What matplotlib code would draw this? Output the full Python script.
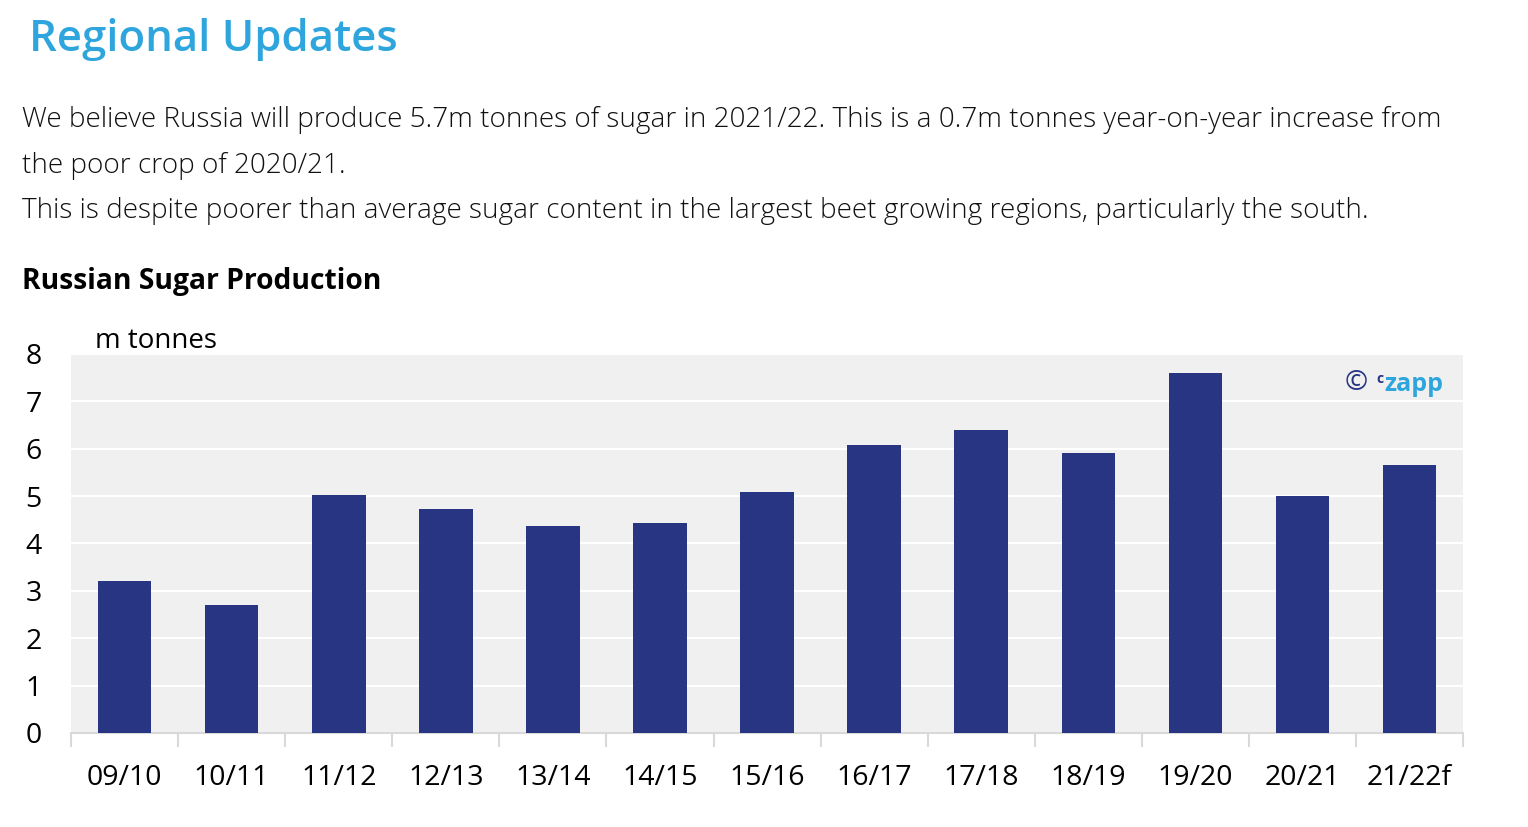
import matplotlib.pyplot as plt
import numpy as np

plt.rcParams['font.family'] = ['Open Sans', 'DejaVu Sans']

seasons = ['09/10', '10/11', '11/12', '12/13', '13/14', '14/15', '15/16',
           '16/17', '17/18', '18/19', '19/20', '20/21', '21/22f']
production = [3.21, 2.70, 5.02, 4.73, 4.37, 4.43, 5.08,
              6.08, 6.39, 5.91, 7.59, 5.00, 5.65]

fig = plt.figure(figsize=(15.28, 8.27), dpi=100)

fig.text(0.019, 0.952, 'Regional Updates', color='#2ea6dd', fontsize=31.5,
         fontweight='semibold', va='center', ha='left')
body = ('We believe Russia will produce 5.7m tonnes of sugar in 2021/22. This is a 0.7m tonnes year-on-year increase from\n'
        'the poor crop of 2020/21.\n'
        'This is despite poorer than average sugar content in the largest beet growing regions, particularly the south.')
fig.text(0.0145, 0.7995, body, fontsize=20.1, fontweight='light', va='center', ha='left',
         linespacing=1.84, color='#111111')
fig.text(0.0145, 0.66, 'Russian Sugar Production', fontsize=20.3, fontweight='bold',
         va='center', ha='left')

ax = fig.add_axes([0.0465, 0.1137, 0.911, 0.4583])
x = np.arange(len(seasons))
ax.bar(x, production, width=0.5, color='#283583', zorder=3)
ax.set_facecolor('#f0f0f0')
ax.set_xlim(-0.5, len(seasons) - 0.5)
ax.set_ylim(0, 8)
ax.set_yticks(range(0, 9))
ax.yaxis.grid(True, color='white', linewidth=1.5, zorder=0)
ax.set_axisbelow(True)
for s in ['top', 'right', 'left']:
    ax.spines[s].set_visible(False)
ax.spines['bottom'].set_color('#d9d9d9')
ax.spines['bottom'].set_linewidth(1.5)

ax.set_xticks(x)
ax.set_xticklabels(seasons)
ax.tick_params(axis='x', length=0, labelsize=20.5, pad=22.5)
ax.set_xticks(np.arange(-0.5, len(seasons)), minor=True)
ax.tick_params(axis='x', which='minor', length=10, width=1.5, color='#d9d9d9')
ax.tick_params(axis='y', length=0, labelsize=20.5, pad=21)

ax.text(0.0175, 0.997, 'm tonnes', transform=ax.transAxes, fontsize=20,
        va='bottom', ha='left')

# czapp watermark
ax.text(0.923, 0.923, '\u00a9', transform=ax.transAxes, fontsize=20,
        color='#283583', va='center', ha='center')
ax.text(0.9375, 0.935, 'c', transform=ax.transAxes, fontsize=10,
        color='#283583', va='center', ha='left', fontweight='bold')
ax.text(0.9435, 0.92, 'zapp', transform=ax.transAxes, fontsize=18,
        color='#2ea6dd', va='center', ha='left', fontweight='bold')

fig.savefig('out.png', dpi=100)
